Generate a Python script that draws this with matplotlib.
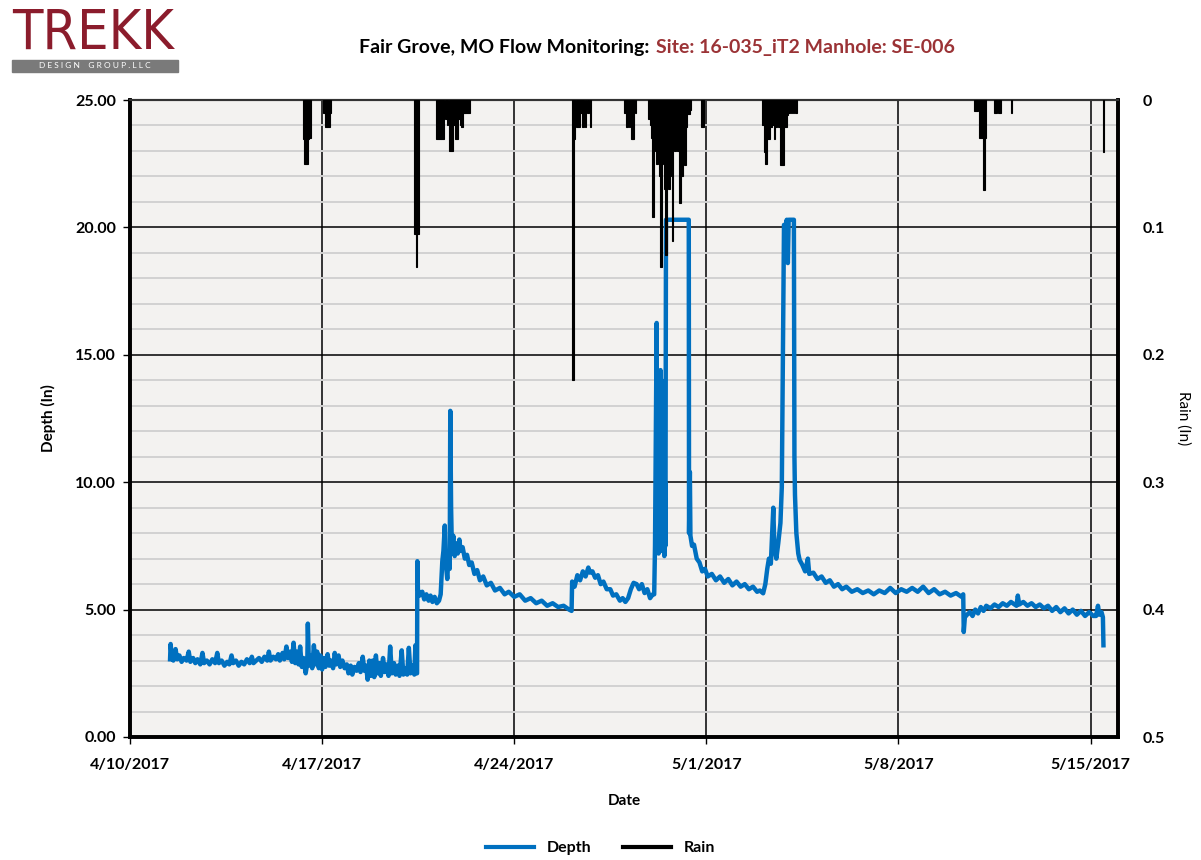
import numpy as np
import pandas as pd
import matplotlib
matplotlib.use("Agg")
import matplotlib.pyplot as plt
import matplotlib.dates as mdates
from matplotlib.ticker import MultipleLocator, FuncFormatter
from matplotlib.lines import Line2D
from matplotlib.patches import Rectangle

plt.rcParams['font.family'] = ['Lato', 'DejaVu Sans']

# data, days since 4/10/2017
start = pd.Timestamp('2017-04-10')

depth_day = [
    1.46, 1.48, 1.52, 1.58, 1.66, 1.72, 1.80, 1.88, 1.96, 2.06, 2.14, 2.20, 2.30, 2.38, 2.46, 2.56, 2.64, 2.70,
    2.80, 2.90, 3.00, 3.10, 3.18, 3.24, 3.34, 3.44, 3.54, 3.62, 3.70, 3.76, 3.86, 3.96, 4.06, 4.16, 4.26, 4.36,
    4.44, 4.50, 4.60, 4.70, 4.80, 4.90, 5.00, 5.06, 5.12, 5.22, 5.32, 5.40, 5.46, 5.56, 5.62, 5.70, 5.76, 5.84,
    5.90, 5.96, 6.02, 6.08, 6.14, 6.20, 6.26, 6.32, 6.40, 6.46, 6.48, 6.52, 6.58, 6.64, 6.70, 6.76, 6.82, 6.88,
    6.94, 7.00, 7.06, 7.12, 7.20, 7.26, 7.32, 7.40, 7.46, 7.52, 7.60, 7.66, 7.74, 7.82, 7.90, 7.96, 8.04, 8.10,
    8.18, 8.26, 8.34, 8.40, 8.48, 8.54, 8.60, 8.66, 8.72, 8.78, 8.84, 8.90, 8.96, 9.02, 9.08, 9.14, 9.22, 9.28,
    9.34, 9.42, 9.48, 9.54, 9.62, 9.68, 9.76, 9.82, 9.90, 9.96, 10.04, 10.10, 10.16, 10.22, 10.30, 10.36, 10.40, 10.43,
    10.46, 10.47, 10.49, 10.55, 10.65, 10.72, 10.80, 10.88, 10.95, 11.02, 11.10, 11.18, 11.26, 11.32, 11.38, 11.42,
    11.47, 11.50, 11.56, 11.61, 11.65, 11.67, 11.70, 11.73, 11.78, 11.83, 11.88, 11.94, 12.00, 12.05, 12.12, 12.20,
    12.28, 12.36, 12.45, 12.55, 12.65, 12.75, 12.87, 13.00, 13.15, 13.30, 13.48, 13.65, 13.80, 14.00, 14.20, 14.40,
    14.60, 14.80, 15.00, 15.20, 15.40, 15.60, 15.80, 16.00, 16.09, 16.11, 16.20, 16.30, 16.40, 16.50, 16.60, 16.70,
    16.76, 16.85, 16.95, 17.05, 17.15, 17.25, 17.37, 17.50, 17.60, 17.72, 17.85, 17.95, 18.05, 18.15, 18.25, 18.35,
    18.46, 18.55, 18.65, 18.75, 18.85, 18.95, 19.05,
    19.10, 19.13, 19.16, 19.19, 19.21, 19.24, 19.26, 19.29, 19.31, 19.33, 19.35, 19.37, 19.39, 19.41, 19.43, 19.45,
    19.47, 19.49, 19.51, 19.53, 20.36, 20.37, 20.40, 20.42, 20.48, 20.55, 20.65, 20.75, 20.85, 20.95, 21.05, 21.20,
    21.35, 21.50, 21.65, 21.80, 21.95, 22.10, 22.25, 22.40, 22.55, 22.70, 22.85, 22.95,
    23.07, 23.15, 23.22, 23.28, 23.35, 23.44, 23.48, 23.55, 23.62, 23.70, 23.75, 23.80, 23.83, 23.88, 23.93, 23.97,
    24.00, 24.10, 24.19, 24.21, 24.23, 24.28, 24.35, 24.40, 24.50, 24.60, 24.70, 24.75, 24.90, 25.05, 25.20, 25.35,
    25.50, 25.65, 25.80, 25.95, 26.10, 26.30, 26.50, 26.70, 26.90, 27.10, 27.30, 27.50, 27.70, 27.90, 28.10, 28.30,
    28.50, 28.70, 28.90, 29.10, 29.30, 29.50, 29.70, 29.90, 30.10, 30.30, 30.36, 30.38, 30.42, 30.50, 30.60, 30.70,
    30.80, 30.90, 31.00, 31.10, 31.20, 31.35, 31.50, 31.65, 31.80, 31.95, 32.10, 32.30, 32.35, 32.40, 32.55, 32.70,
    32.85, 33.00, 33.15, 33.30, 33.45, 33.60, 33.75, 33.90, 34.05, 34.20, 34.35, 34.50, 34.65, 34.80, 34.95, 35.10,
    35.20, 35.27, 35.32, 35.40, 35.45, 35.47,
]
depth_in = [
    3.05, 3.65, 3.15, 3.00, 3.45, 3.05, 3.20, 2.95, 3.10, 3.00, 3.35, 2.95, 3.10, 2.90, 3.05, 2.85, 3.30, 2.90,
    3.00, 2.85, 3.05, 2.90, 3.30, 2.90, 3.00, 2.80, 2.95, 2.85, 3.20, 2.90, 3.00, 2.80, 2.95, 2.85, 3.05, 2.90,
    3.15, 2.90, 3.00, 3.10, 2.95, 3.15, 3.00, 3.35, 3.00, 3.15, 3.05, 3.25, 3.00, 3.30, 3.05, 3.55, 3.10, 3.35,
    2.95, 3.70, 2.90, 3.35, 2.85, 3.55, 2.75, 3.10, 2.50, 2.90, 4.45, 2.80, 3.20, 2.70, 3.60, 2.85, 3.35, 2.70,
    3.20, 2.65, 3.10, 2.75, 3.25, 2.80, 3.00, 2.70, 3.30, 2.85, 3.20, 2.75, 3.00, 2.70, 2.85, 2.50, 2.80, 2.45,
    2.75, 2.60, 2.90, 2.55, 3.15, 2.60, 2.80, 2.25, 3.00, 2.40, 3.00, 2.35, 3.20, 2.50, 2.90, 2.40, 3.10, 2.55,
    2.85, 2.40, 3.55, 2.50, 2.90, 2.45, 2.80, 2.40, 3.40, 2.45, 2.70, 2.45, 3.50, 2.50, 2.80, 2.45, 3.60, 2.50,
    2.50, 6.90, 5.80, 5.55, 5.70, 5.40, 5.60, 5.35, 5.55, 5.30, 5.50, 5.25, 5.35, 5.60, 6.90, 7.30,
    8.30, 6.90, 6.20, 7.20, 6.60, 12.80, 9.00, 7.30, 7.90, 7.10, 7.60, 7.20, 7.75, 7.30, 7.45, 7.00,
    7.15, 6.75, 6.85, 6.40, 6.55, 6.15, 6.30, 5.95, 6.05, 5.75, 5.85, 5.60, 5.70, 5.50, 5.60, 5.35,
    5.45, 5.25, 5.35, 5.15, 5.25, 5.10, 5.15, 5.00, 4.95, 6.10, 5.90, 6.35, 6.15, 6.50, 6.30, 6.65,
    6.45, 6.50, 6.25, 6.35, 6.00, 6.10, 5.80, 5.80, 5.55, 5.60, 5.35, 5.45, 5.30, 5.45, 5.80, 6.05,
    6.00, 5.80, 6.00, 5.65, 5.80, 5.45, 5.60,
    5.60, 7.50, 12.00, 16.25, 8.00, 12.50, 7.20, 11.00, 7.50, 14.40, 8.00, 14.00, 7.30, 13.80, 8.50, 12.00,
    7.10, 10.00, 7.50, 20.30, 20.30, 8.00, 10.40, 7.90, 7.50, 7.55, 7.00, 6.85, 6.50, 6.60, 6.30, 6.40,
    6.15, 6.30, 6.05, 6.20, 5.95, 6.10, 5.90, 6.00, 5.80, 5.90, 5.70, 5.75,
    5.64, 6.00, 6.60, 7.00, 6.80, 9.00, 7.40, 7.00, 7.60, 8.40, 9.80, 16.50, 20.10, 19.90, 20.30, 18.60,
    20.30, 20.30, 20.30, 11.00, 9.50, 8.00, 7.20, 6.95, 6.75, 6.50, 7.00, 6.40, 6.45, 6.20, 6.30, 6.05,
    6.15, 5.90, 6.00, 5.80, 5.90, 5.70, 5.80, 5.65, 5.75, 5.60, 5.75, 5.65, 5.85, 5.65, 5.80, 5.70,
    5.85, 5.70, 5.90, 5.65, 5.80, 5.60, 5.70, 5.55, 5.65, 5.50, 5.60, 4.12, 4.70, 4.80, 4.90, 4.75,
    5.00, 4.85, 5.10, 4.95, 5.15, 5.05, 5.20, 5.10, 5.25, 5.15, 5.30, 5.15, 5.55, 5.20, 5.30, 5.15,
    5.25, 5.10, 5.20, 5.05, 5.15, 4.95, 5.10, 4.90, 5.05, 4.85, 5.00, 4.80, 4.95, 4.75, 4.90, 4.75,
    4.75, 5.15, 4.80, 4.90, 4.70, 3.60,
]

rain_day = [
    6.32, 6.38, 6.44, 6.50, 6.56,
    7.08, 7.14, 7.20, 7.26, 7.30,
    10.38, 10.44, 10.50,
    11.18, 11.24, 11.30, 11.36, 11.42, 11.50, 11.57, 11.66, 11.72, 11.80, 11.86, 11.92, 11.98, 12.04, 12.10,
    12.16, 12.22, 12.28, 12.35,
    16.14, 16.20, 16.28, 16.36, 16.44, 16.52, 16.60, 16.68, 16.78,
    18.05, 18.12, 18.20, 18.28, 18.34, 18.42,
    18.92, 18.97, 19.02, 19.06, 19.11, 19.16, 19.21, 19.26, 19.31, 19.35, 19.40, 19.45, 19.49, 19.53, 19.58,
    19.63, 19.67, 19.72, 19.77, 19.82, 19.87, 19.92, 19.97, 20.03, 20.08, 20.11, 20.16, 20.21, 20.26, 20.31,
    20.36, 20.42,
    20.85, 20.90,
    23.06, 23.12, 23.18, 23.24, 23.30, 23.36, 23.42, 23.48, 23.54, 23.60, 23.66, 23.72, 23.78, 23.84, 23.90,
    23.96, 24.02, 24.10, 24.18, 24.26,
    30.78, 30.85, 30.98, 31.04, 31.11, 31.17, 31.50, 31.56, 31.65, 31.72, 32.12,
    35.47,
]
rain_in = [
    0.031, 0.050, 0.050, 0.031, 0.030,
    0.010, 0.021, 0.021, 0.021, 0.010,
    0.105, 0.131, 0.105,
    0.031, 0.031, 0.031, 0.031, 0.031, 0.015, 0.020, 0.040, 0.040, 0.020, 0.031, 0.031, 0.015, 0.020, 0.021,
    0.010, 0.010, 0.010, 0.010,
    0.220, 0.031, 0.021, 0.021, 0.010, 0.021, 0.021, 0.010, 0.021,
    0.010, 0.021, 0.021, 0.031, 0.031, 0.010,
    0.015, 0.020, 0.030, 0.092, 0.040, 0.031, 0.050, 0.040, 0.060, 0.131, 0.050, 0.040, 0.070, 0.122, 0.040,
    0.070, 0.060, 0.031, 0.111, 0.031, 0.040, 0.031, 0.040, 0.081, 0.030, 0.060, 0.030, 0.051, 0.021, 0.011,
    0.011, 0.008,
    0.021, 0.021,
    0.020, 0.041, 0.050, 0.031, 0.031, 0.021, 0.020, 0.031, 0.021, 0.015, 0.021, 0.051, 0.051, 0.021, 0.021,
    0.012, 0.010, 0.010, 0.010, 0.010,
    0.009, 0.009, 0.030, 0.030, 0.071, 0.030, 0.010, 0.010, 0.010, 0.010, 0.010,
    0.041,
]

depth_t = start + pd.to_timedelta(depth_day, unit='D')
rain_t = start + pd.to_timedelta(rain_day, unit='D')

fig = plt.figure(figsize=(12.01, 8.6), dpi=100)
ax1 = fig.add_axes([130/1201, 1-737/860, (1118-130)/1201, (737-100)/860])
ax1.set_facecolor('#f3f2f0')

ax1.plot(depth_t, depth_in, color='#0070c0', lw=3.2, zorder=3, solid_joinstyle='round')

ax1.set_xlim(start, start + pd.Timedelta(days=36))
ax1.set_ylim(0, 25)
ticks = [start + pd.Timedelta(days=7*i) for i in range(6)]
ax1.set_xticks(ticks)
ax1.xaxis.set_major_formatter(FuncFormatter(
    lambda v, p: (lambda d: f"{d.month}/{d.day}/{d.year}")(mdates.num2date(v))))
ax1.yaxis.set_major_locator(MultipleLocator(5))
ax1.yaxis.set_minor_locator(MultipleLocator(1))
ax1.yaxis.set_major_formatter(FuncFormatter(lambda v, p: f"{v:.2f}"))

ax1.grid(which='major', axis='both', color='black', lw=1.1, zorder=1)
ax1.grid(which='minor', axis='y', color='#d2d2d2', lw=1.4, zorder=0)
ax1.set_axisbelow(True)
ax1.tick_params(axis='both', which='major', length=5, width=1, labelsize=11.5)
ax1.tick_params(axis='x', pad=10)
ax1.tick_params(axis='y', pad=5)
ax1.tick_params(axis='y', which='minor', length=0)
for lab in ax1.get_xticklabels() + ax1.get_yticklabels():
    lab.set_fontweight('bold')

ax1.set_ylabel('Depth (In)', fontsize=11, fontweight='bold', labelpad=14)
ax1.set_xlabel('Date', fontsize=11, fontweight='bold', labelpad=16)

ax2 = ax1.twinx()
ax2.bar(rain_t, rain_in, width=0.065, color='black', edgecolor='black', linewidth=0.8,
        align='center', zorder=4)
ax2.set_ylim(0.5, 0)
ax2.yaxis.set_major_locator(MultipleLocator(0.1))
ax2.yaxis.set_major_formatter(FuncFormatter(lambda v, p: '0' if abs(v) < 1e-9 else f"{v:.1f}"))
ax2.tick_params(axis='y', length=0, labelsize=11.5, pad=18)
for lab in ax2.get_yticklabels():
    lab.set_fontweight('bold')
ax2.set_ylabel('Rain (In)', fontsize=11, rotation=270, labelpad=18)

for ax in (ax1, ax2):
    for s in ax.spines.values():
        s.set_linewidth(2.6)
        s.set_color('black')
ax1.spines['top'].set_color('#333333')
ax1.spines['top'].set_linewidth(1.5)
ax2.spines['top'].set_color('#333333')
ax2.spines['top'].set_linewidth(1.5)

# title
fig.text(0.541, 0.945, 'Fair Grove, MO Flow Monitoring:', ha='right', va='center',
         fontsize=14, fontweight='bold', color='black')
fig.text(0.546, 0.945, 'Site: 16-035_iT2 Manhole: SE-006', ha='left', va='center',
         fontsize=14, fontweight='bold', color='#9b3336')

# logo
fig.text(12/1201, 1-34/860, 'TREKK', ha='left', va='center', fontsize=40,
         family='DejaVu Sans', fontstretch='condensed', color='#8b1c2c')
fig.patches.append(Rectangle((12/1201, 1-72/860), 166/1201, 12/860,
                             transform=fig.transFigure, color='#7a7a7a'))
fig.text(95/1201, 1-66/860, 'D E S I G N    G R O U P . L L C', ha='center', va='center',
         fontsize=6, color='white')

# legend
handles = [Line2D([0], [0], color='#0070c0', lw=3), Line2D([0], [0], color='black', lw=3)]
fig.legend(handles, ['Depth', 'Rain'], loc='center', bbox_to_anchor=(0.5, 1-848/860), ncol=2,
           frameon=False, prop={'weight': 'bold', 'size': 11.5}, handlelength=3, columnspacing=2)

fig.savefig('out.png', dpi=100)
